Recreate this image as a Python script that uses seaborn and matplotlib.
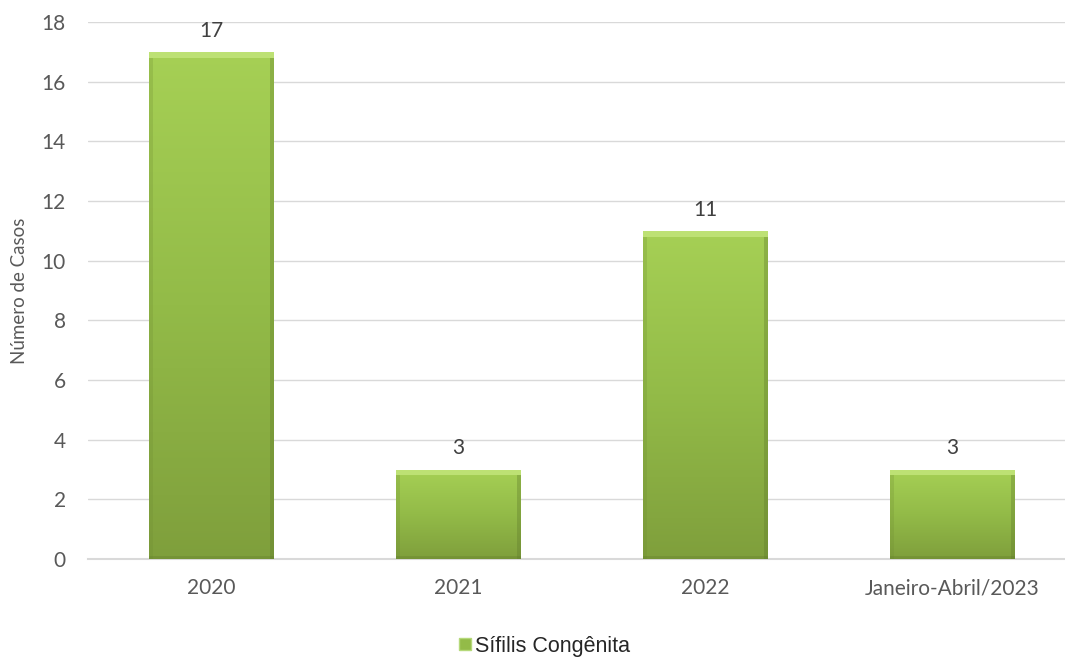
import numpy as np
import pandas as pd
import matplotlib.pyplot as plt
import seaborn as sns
from matplotlib.colors import LinearSegmentedColormap
from matplotlib.lines import Line2D

periodos = ["2020", "2021", "2022", "Janeiro-Abril/2023"]
casos = [17, 3, 11, 3]
serie = "Sífilis Congênita"

data = pd.DataFrame({"Periodo": periodos, "Casos": casos})

sns.set_style("white")
plt.rcParams["font.family"] = ["Lato", "DejaVu Sans"]

fig = plt.figure(figsize=(10.65, 6.59), dpi=100)
# plot area runs a bit past the right edge, like the original
ax = fig.add_axes([0.0826, 0.1517, 0.9277, 0.8149])

sns.barplot(data=data, x="Periodo", y="Casos", color="#8fb847", width=0.506,
            edgecolor="none", ax=ax, zorder=2)

# gradient fill clipped to each bar
cmap = LinearSegmentedColormap.from_list("verde", ["#7f9f3c", "#93bb48", "#a6d055"])
grad = np.linspace(0, 1, 256).reshape(-1, 1)
for bar in ax.patches:
    x0, y0 = bar.get_x(), bar.get_y()
    w, h = bar.get_width(), bar.get_height()
    im = ax.imshow(grad, extent=[x0, x0 + w, y0, y0 + h], origin="lower",
                   cmap=cmap, aspect="auto", zorder=3)
    im.set_clip_path(bar)
    # bevel: light top, softer darker sides and bottom
    ax.fill_between([x0, x0 + w], y0 + h - 0.2, y0 + h, color="#c2e57a",
                    alpha=0.85, zorder=4, linewidth=0)
    ax.fill_between([x0, x0 + 0.015], y0, y0 + h - 0.2, color="#6f8c33",
                    alpha=0.25, zorder=4, linewidth=0)
    ax.fill_between([x0 + w - 0.015, x0 + w], y0, y0 + h - 0.2, color="#5f7a2b",
                    alpha=0.35, zorder=4, linewidth=0)
    ax.fill_between([x0, x0 + w], y0, y0 + 0.1, color="#5f7a2b",
                    alpha=0.3, zorder=4, linewidth=0)
    ax.annotate(f"{int(h)}", (x0 + w / 2, h), xytext=(0, 8),
                textcoords="offset points", ha="center", va="bottom",
                fontsize=15, color="#404040")

ax.set_xlim(-0.5, 3.5)
ax.set_ylim(0, 18)
ax.set_yticks(range(0, 19, 2))
ax.yaxis.grid(True, color="#d9d9d9", linewidth=1, zorder=0)
ax.set_axisbelow(True)
for s in ["top", "right", "left"]:
    ax.spines[s].set_visible(False)
ax.spines["bottom"].set_color("#d9d9d9")
ax.spines["bottom"].set_linewidth(1.5)
ax.tick_params(axis="both", length=0, labelsize=15, labelcolor="#595959")
ax.tick_params(axis="y", pad=16)
ax.tick_params(axis="x", pad=14)
ax.set_xlabel("")
ax.set_ylabel("Número de Casos", fontsize=13.5, color="#595959", labelpad=10)

handle = Line2D([], [], marker="s", linestyle="none", markersize=9,
                markerfacecolor="#93bb48", markeredgecolor="#b5d97a")
fig.legend([handle], [serie], loc="lower center", bbox_to_anchor=(0.51, -0.026),
           frameon=False, handletextpad=0.05, handlelength=0.8,
           prop={"family": "Liberation Sans", "size": 15.5})

fig.savefig("out.png", dpi=100)
